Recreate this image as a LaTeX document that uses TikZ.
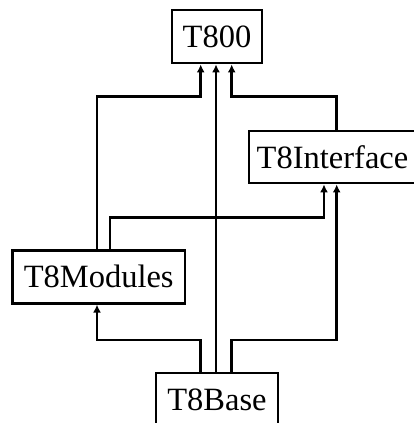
\documentclass[tikz,border=0pt]{standalone}
\usepackage{fontspec}
\setmainfont{Liberation Serif}
\usetikzlibrary{arrows.meta}
\begin{document}
\begin{tikzpicture}[x=1pt,y=-1pt,
  box/.style={draw,line width=2.8pt,inner sep=0pt,font=\fontsize{32.5}{38}\selectfont},
  arr/.style={line width=2.8pt,-{Latex[length=8pt,width=8pt]}}]
\clip (0,0) rectangle (414,423);
\fill[white] (0,0) rectangle (414,423);
\node[box,minimum width=90pt,minimum height=53pt] (t800) at (217,36.5) {T800};
\node[box,minimum width=167pt,minimum height=52pt] (intf) at (332.5,157) {T8Interface};
\node[box,minimum width=172.7pt,minimum height=53pt] (mods) at (98.7,276.7) {T8Modules};
\node[box,minimum width=122pt,minimum height=53pt] (base) at (217,399.5) {T8Base};
% helper x positions
\coordinate (xa) at (97,0);
\coordinate (xb) at (110,0);
\coordinate (xc) at (200.7,0);
\coordinate (xd) at (216,0);
\coordinate (xe) at (231.7,0);
\coordinate (xf) at (324,0);
\coordinate (xg) at (336.7,0);
% connectors
\draw[arr] (mods.north -| xa) |- (97,96.7) -| (t800.south -| xc);
\draw[arr] (mods.north -| xb) |- (110,217.7) -| (intf.south -| xf);
\draw[arr] (intf.north -| xg) |- (231.7,96.7) -| (t800.south -| xe);
\draw[arr] (base.north -| xd) -- (t800.south -| xd);
\draw[arr] (base.north -| xc) |- (200.7,340) -| (mods.south -| xa);
\draw[arr] (base.north -| xe) |- (231.7,340) -| (intf.south -| xg);
\end{tikzpicture}
\end{document}
